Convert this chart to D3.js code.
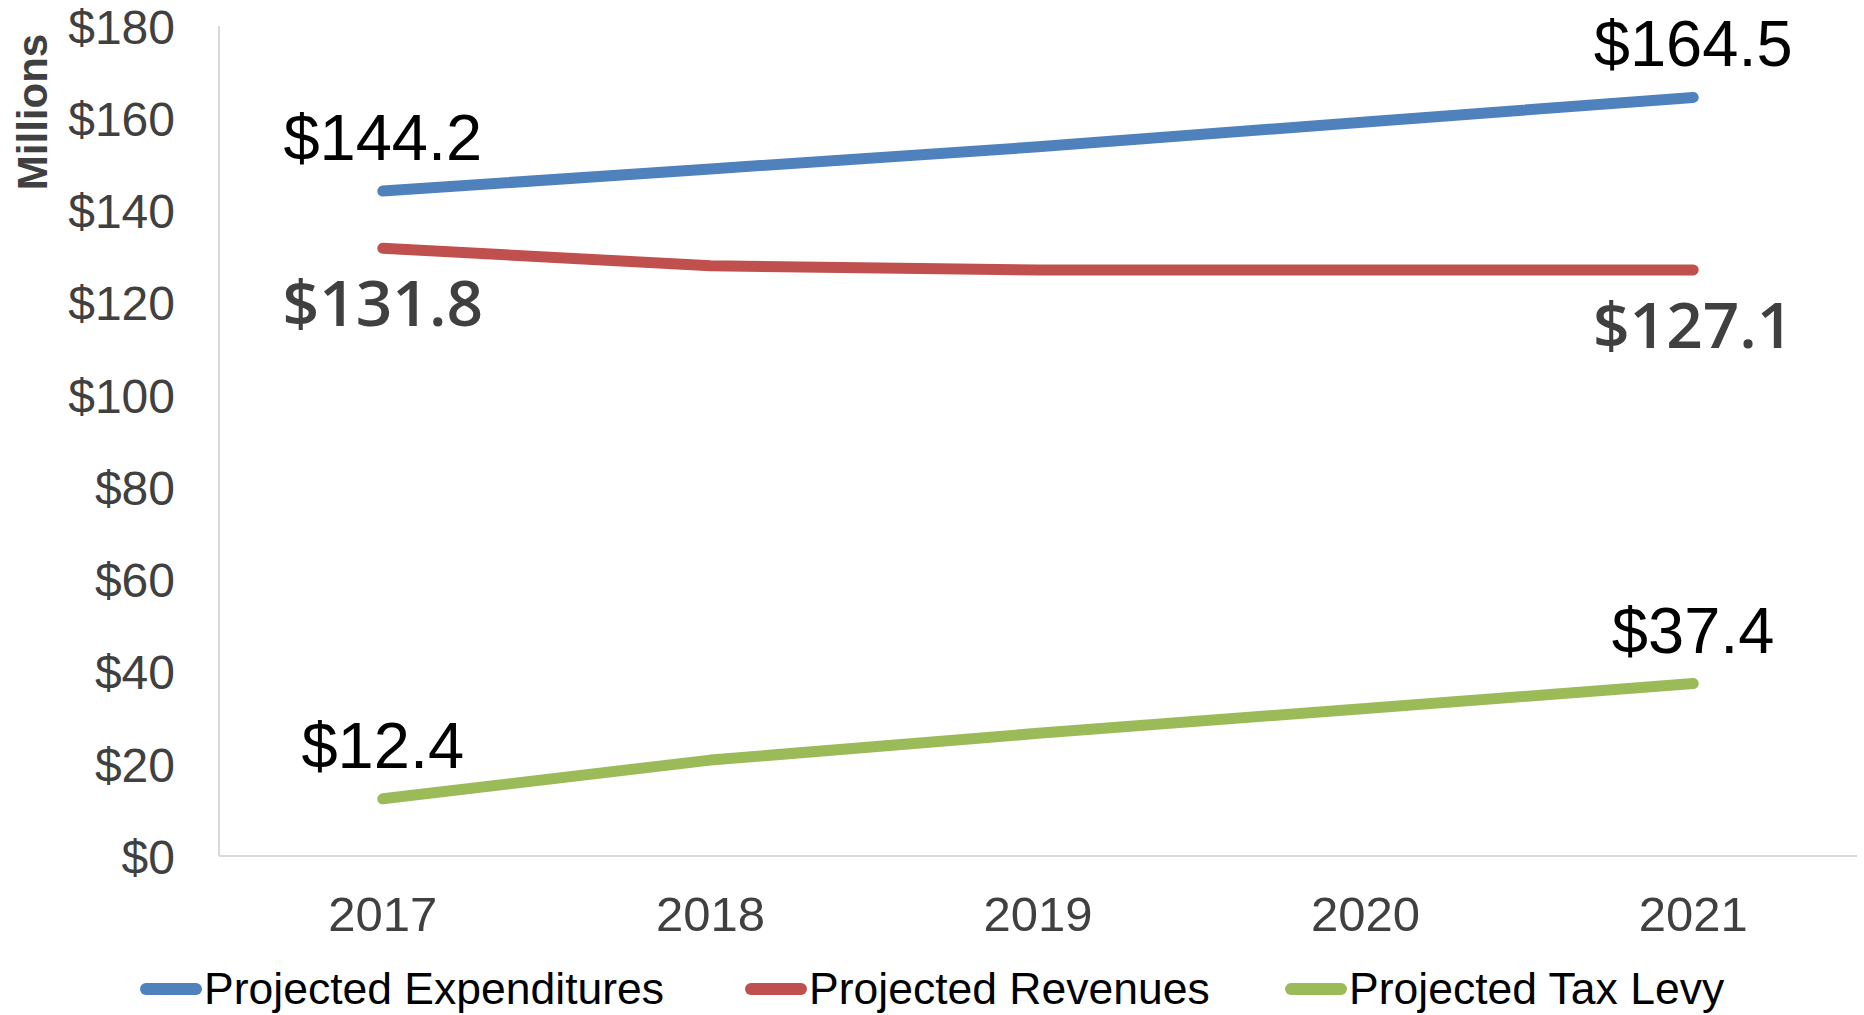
<!DOCTYPE html>
<html>
<head>
<meta charset="utf-8">
<script src="https://cdn.jsdelivr.net/npm/d3@7"></script>
<style>
  html, body { margin: 0; padding: 0; background: #fff; }
  svg { display: block; }
</style>
</head>
<body>
<svg id="chart" width="1864" height="1015"></svg>
<script>
// ---- data ----
const years = ["2017", "2018", "2019", "2020", "2021"];
const expenditures = [144.2, 149.0, 153.8, 159.2, 164.5];
const revenues = [131.8, 128.0, 127.1, 127.1, 127.1];
const taxLevy = [12.4, 20.8, 26.6, 32.0, 37.4];
const seriesNames = ["Projected Expenditures", "Projected Revenues", "Projected Tax Levy"];
const seriesColors = ["#4F81BD", "#C0504D", "#9BBB59"];
const yTicks = [0, 20, 40, 60, 80, 100, 120, 140, 160, 180];
const yAxisTitle = "Millions";

// ---- layout ----
const svg = d3.select("#chart");
const plotLeft = 219, plotRight = 1857, plotTop = 26, plotBottom = 856;

const x = d3.scaleBand().domain(years).range([plotLeft, plotRight]).paddingInner(0).paddingOuter(0);
const xc = d => x(d) + x.bandwidth() / 2;
const y = d3.scaleLinear().domain([0, 180]).range([plotBottom, plotTop]);

// axes lines
svg.append("line").attr("x1", plotLeft).attr("x2", plotLeft).attr("y1", plotTop).attr("y2", plotBottom)
  .attr("stroke", "#D9D9D9").attr("stroke-width", 2);
svg.append("line").attr("x1", plotLeft).attr("x2", plotRight).attr("y1", plotBottom).attr("y2", plotBottom)
  .attr("stroke", "#D9D9D9").attr("stroke-width", 2);

// y tick labels
const yAxis = d3.axisLeft(y).tickValues(yTicks).tickSize(0).tickPadding(44)
  .tickFormat(d => "$" + d);
const gy = svg.append("g").attr("transform", `translate(${plotLeft},0)`).call(yAxis);
gy.select(".domain").remove();
gy.selectAll("text")
  .attr("font-family", "'Liberation Sans', Arial, sans-serif")
  .attr("font-size", 48).attr("fill", "#404040").attr("dy", "0.36em");

// x tick labels
const xAxis = d3.axisBottom(x).tickSize(0).tickPadding(0);
const gx = svg.append("g").attr("transform", `translate(0,${plotBottom})`).call(xAxis);
gx.select(".domain").remove();
gx.selectAll("text")
  .attr("font-family", "'Liberation Sans', Arial, sans-serif")
  .attr("font-size", 49).attr("fill", "#404040")
  .attr("dy", null).attr("y", 75);

// y-axis title
svg.append("text")
  .attr("transform", `translate(47,112) rotate(-90)`)
  .attr("text-anchor", "middle")
  .attr("font-family", "'Liberation Sans', Arial, sans-serif")
  .attr("font-weight", "bold").attr("font-size", 42).attr("fill", "#404040")
  .text(yAxisTitle);

// lines
const allSeries = [expenditures, revenues, taxLevy];
const line = d3.line().x((d, i) => xc(years[i])).y(d => y(d));
allSeries.forEach((vals, si) => {
  svg.append("path").datum(vals)
    .attr("d", line)
    .attr("fill", "none")
    .attr("stroke", seriesColors[si])
    .attr("stroke-width", 11)
    .attr("stroke-linecap", "round")
    .attr("stroke-linejoin", "round");
});

// data labels (first and last point)
const labelStyles = [
  { dy: -31, weight: "normal", color: "#000000", family: "'Liberation Sans', Arial, sans-serif", size: 65 },
  { dy: 78, weight: "600", color: "#404040", family: "'Open Sans', 'Liberation Sans', sans-serif", size: 64 },
  { dy: -31, weight: "normal", color: "#000000", family: "'Liberation Sans', Arial, sans-serif", size: 65 }
];
allSeries.forEach((vals, si) => {
  [0, vals.length - 1].forEach(i => {
    const st = labelStyles[si];
    svg.append("text")
      .attr("x", xc(years[i]))
      .attr("y", y(vals[i]) + st.dy)
      .attr("text-anchor", "middle")
      .attr("font-family", st.family)
      .attr("font-weight", st.weight)
      .attr("font-size", st.size)
      .attr("fill", st.color)
      .text("$" + vals[i].toFixed(1));
  });
});

// legend
const legendX = [140, 745, 1285];
const legendY = 989;
seriesNames.forEach((name, i) => {
  svg.append("line")
    .attr("x1", legendX[i] + 6).attr("x2", legendX[i] + 56)
    .attr("y1", legendY).attr("y2", legendY)
    .attr("stroke", seriesColors[i]).attr("stroke-width", 12)
    .attr("stroke-linecap", "round");
  svg.append("text")
    .attr("x", legendX[i] + 64).attr("y", legendY + 15)
    .attr("font-family", "'Liberation Sans', Arial, sans-serif")
    .attr("font-size", 44.5).attr("fill", "#000")
    .text(name);
});
</script>
</body>
</html>
